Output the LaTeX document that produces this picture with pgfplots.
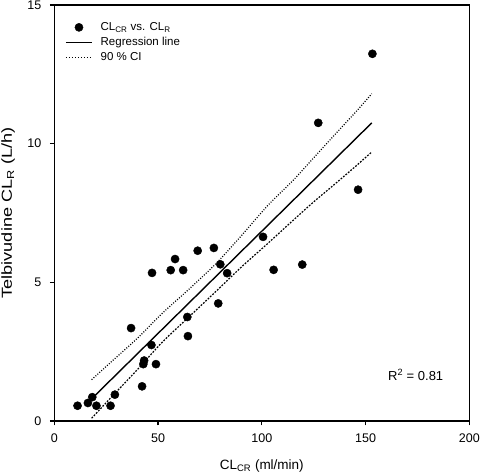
\documentclass[border=0pt]{standalone}
\usepackage{pgfplots}
\pgfplotsset{compat=1.18}
\usepackage{fontspec}
\setmainfont{Liberation Sans}
\begin{document}
\begin{tikzpicture}[font=\fontsize{11.5}{13.8}\selectfont]
\begin{axis}[
  name=ax, at={(0,0)}, anchor=south west,
  width=415pt, height=416pt, scale only axis,
  xmin=0, xmax=200, ymin=0, ymax=15,
  xtick={0,50,100,150,200}, ytick={0,5,10,15},
  tick align=outside, xtick pos=bottom, ytick pos=left,
  major tick length=4.5pt,
  axis line style={line width=1.5pt},
  every tick/.style={black, line width=1.3pt},
  /pgf/number format/assume math mode=true,
  tick label style={font=\fontsize{12.5}{15}\selectfont},
  xticklabel style={yshift=-4.5pt},
  yticklabel style={xshift=-5pt},
  xlabel={CL\textsubscript{CR} (ml/min)},
  ylabel={\scalebox{1.25}[1]{Telbivudine CL\textsubscript{R} (L/h)}},
  xlabel style={font=\fontsize{13.5}{16}\selectfont, at={(axis description cs:0.5,-0.1075)}, anchor=center},
  ylabel style={font=\fontsize{14.5}{17}\selectfont, at={(axis description cs:-0.111,0.5)}, anchor=center},
  legend style={draw=none, fill=none, at={(axis description cs:0.026,0.963)}, anchor=north west,
    row sep=1.3pt, font=\fontsize{11.5}{13}\selectfont, inner sep=0pt,
    nodes={inner xsep=3pt}},
  legend cell align=left,
]
\addplot[only marks, mark=*, mark size=4.1pt, black,
  legend image code/.code={\fill[black] (13pt,0pt) circle (4.1pt); \path (31pt,0pt);}] table {
x y
11.2 0.55
16.2 0.65
18.3 0.86
20.3 0.55
27.1 0.55
29.2 0.95
42.3 1.25
42.9 2.05
43.3 2.18
49.0 2.05
46.8 2.74
37.0 3.35
64.4 3.06
64.1 3.75
47.1 5.34
56.1 5.44
62.1 5.44
58.2 5.84
69.1 6.14
76.9 6.24
80.0 5.65
83.3 5.33
79.0 4.24
153.3 13.24
127.2 10.75
146.4 8.34
119.5 5.64
105.7 5.45
100.6 6.64
};
\addlegendentry{CL\textsubscript{CR} vs. CL\textsubscript{R}}
\addplot[black, line width=1.4pt,
  legend image code/.code={\draw[black, line width=1.4pt] (0pt,0pt) -- (26pt,0pt); \path (31pt,0pt);}]
  coordinates {(18,0.80) (153,10.75)};
\addlegendentry{Regression line}
\addplot[black, line width=1.2pt, dash pattern=on 1pt off 1.6pt, smooth,
  legend image code/.code={\draw[black, line width=1.1pt, dash pattern=on 1pt off 2pt] (0pt,0pt) -- (26pt,0pt); \path (31pt,0pt);}]
  coordinates {(18,1.49) (28,2.17) (40,2.98) (52,3.88) (65,4.76) (78,5.68) (90,6.67) (103,7.78) (115,8.67) (125,9.49) (135,10.31) (145,11.12) (153,11.80)};
\addlegendentry{90 \% CI}
\addplot[black, line width=1.2pt, dash pattern=on 1.8pt off 1.4pt, smooth, forget plot]
  coordinates {(18,0.10) (28,0.90) (40,1.85) (52,2.84) (65,3.76) (78,4.68) (90,5.54) (103,6.41) (115,7.23) (125,7.90) (135,8.53) (145,9.17) (153,9.70)};
\node[anchor=west, inner sep=0pt, font=\fontsize{13}{15}\selectfont] at (axis cs:160.8,1.66) {R\textsuperscript{2} = 0.81};
\end{axis}
\pgfresetboundingbox
\path[use as bounding box] ([shift={(-54.3pt,-53pt)}]ax.south west) rectangle ([shift={(10.7pt,5pt)}]ax.north east);
\end{tikzpicture}
\end{document}
